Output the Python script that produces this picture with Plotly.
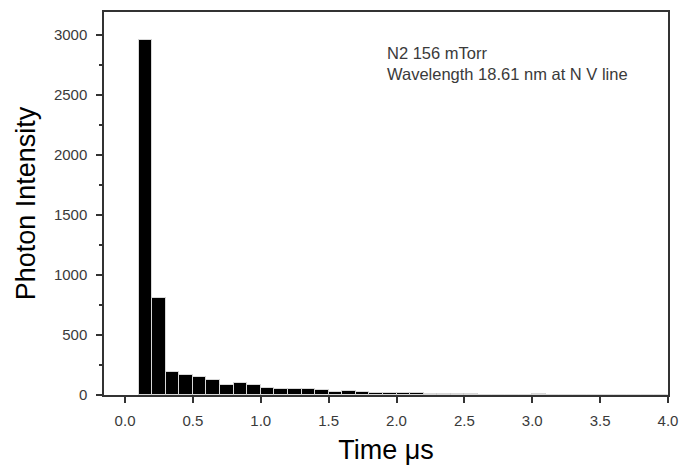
import plotly.graph_objects as go

# Bin centres (µs) and photon counts
time_us = [0.15, 0.25, 0.35, 0.45, 0.55, 0.65, 0.75, 0.85, 0.95, 1.05,
           1.15, 1.25, 1.35, 1.45, 1.55, 1.65, 1.75, 1.85, 1.95, 2.05,
           2.15, 2.25, 2.35, 2.45, 2.55, 2.65, 2.75, 2.85, 2.95, 3.05,
           3.15, 3.25, 3.35, 3.45, 3.55, 3.65, 3.75, 3.85, 3.95]
intensity = [2960, 805, 195, 170, 147, 125, 86, 98, 83, 57,
             50, 50, 50, 40, 26, 30, 22, 20, 16, 16,
             13, 7, 11, 11, 6, 3, 2, 4, 4, 8,
             2, 1, 1, 1, 1, 0, 0, 0, 0]
bin_width = 0.1

x_ticks = [0.0, 0.5, 1.0, 1.5, 2.0, 2.5, 3.0, 3.5, 4.0]
x_tick_text = ["0.0", "0.5", "1.0", "1.5", "2.0", "2.5", "3.0", "3.5", "4.0"]
y_ticks = [0, 500, 1000, 1500, 2000, 2500, 3000]

fig = go.Figure()
fig.add_trace(go.Bar(
    x=time_us, y=intensity, width=bin_width,
    marker=dict(color="black", line=dict(color="#d8d8d8", width=1)),
    showlegend=False,
))

axis_col = "#333333"
font_fam = "Liberation Sans, Arial, sans-serif"
tick_col = "#3a3a3a"

fig.update_layout(
    width=696, height=470,
    margin=dict(l=104, r=28, t=12, b=75),
    paper_bgcolor="white", plot_bgcolor="white",
    bargap=0,
    font=dict(family=font_fam, color=tick_col),
    xaxis=dict(
        range=[-0.155, 4.0], tickvals=x_ticks, ticktext=x_tick_text,
        automargin=False,
        ticks="outside", ticklen=6, tickwidth=1.5, tickcolor=axis_col,
        ticklabelstandoff=5,
        showline=True, linecolor=axis_col, linewidth=1.5, mirror=True,
        showgrid=False, zeroline=False,
        tickfont=dict(size=15, color=tick_col),
        title=dict(text="Time \u03bcs", font=dict(size=27, color="black"), standoff=12),
    ),
    yaxis=dict(
        range=[0, 3190], tickvals=y_ticks,
        automargin=False,
        ticks="outside", ticklen=6, tickwidth=1.5, tickcolor=axis_col,
        ticklabelstandoff=6,
        minor=dict(dtick=250, ticks="outside", ticklen=3, tickwidth=1.5, tickcolor=axis_col, showgrid=False),
        showline=True, linecolor=axis_col, linewidth=1.5, mirror=True,
        showgrid=False, zeroline=False,
        tickfont=dict(size=15, color=tick_col),
        title=dict(text="Photon Intensity", font=dict(size=27, color="black"), standoff=10),
    ),
    annotations=[
        dict(text="N2 156 mTorr<br>Wavelength 18.61 nm at N V line",
             xref="paper", yref="paper",
             x=(385 - 104) / (668 - 104), y=1 - (42 - 12) / (395 - 12),
             xanchor="left", yanchor="top", align="left", showarrow=False,
             font=dict(size=16.5, color=tick_col, family=font_fam)),
    ],
)

fig.write_html("out.html")
